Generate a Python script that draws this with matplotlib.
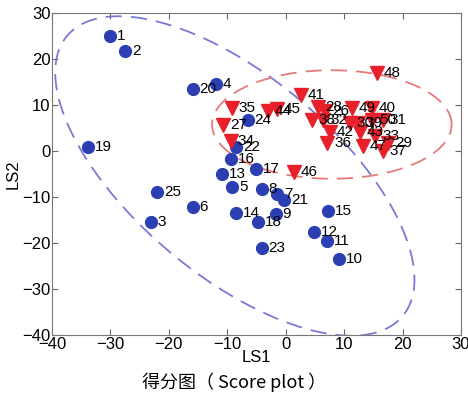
import numpy as np
import matplotlib
matplotlib.use("Agg")
import matplotlib.pyplot as plt

plt.rcParams['font.family'] = ['Liberation Sans', 'DejaVu Sans']

# blue group (circles)
blue_ids = list(range(1, 26))
blue_x = [-30, -27.5, -23.1, -11.9, -9.2, -15.9, -1.5, -4.1, -1.7, 9.1,
          7.1, 4.8, -10.9, -8.5, 7.2, -9.4, -5.1, -4.7, -33.8, -15.9,
          -0.3, -8.5, -4.1, -6.5, -22.0]
blue_y = [25, 21.7, -15.4, 14.5, -7.7, -12.1, -9.3, -8.2, -13.6, -23.4,
          -19.5, -17.5, -4.9, -13.4, -13.0, -1.6, -3.8, -15.4, 1.0, 13.6,
          -10.6, 0.8, -21.0, 6.7, -8.8]

# red group (triangles)
red_ids = [26, 27, 28, 29, 30, 31, 32, 33, 34, 35, 36, 37, 38, 39, 40,
           41, 42, 43, 44, 45, 46, 47, 48, 49, 50]
red_x = [6.7, -10.7, 5.5, 17.5, 11.0, 16.6, 6.4, 15.3, -9.4, -9.2, 7.1, 16.6, 4.5, 12.4, 14.8,
         2.6, 7.6, 12.7, -3.0, -1.5, 1.4, 13.2, 15.6, 11.3, 14.8]
red_y = [8.8, 5.6, 9.5, 1.7, 6.2, 6.7, 6.7, 3.4, 2.3, 9.3, 1.7, 0.1, 6.7, 6.2, 9.3,
         12.3, 4.1, 4.1, 8.8, 9.1, -4.5, 1.2, 16.9, 9.3, 6.7]

# confidence ellipses: centre, axis vectors
blue_c = (-8.7, -5.4)
blue_u = (29.0, -30.0)
blue_v = (10.2, 17.5)
red_c = (7.9, 5.8)
red_u = (20.5, 0.0)
red_v = (0.0, 11.8)

fig = plt.figure(figsize=(4.68, 3.99), dpi=100)
ax = fig.add_axes([0.111, 0.160, 0.874, 0.807])

t = np.linspace(0, 2 * np.pi, 400)
ex = blue_c[0] + np.cos(t) * blue_u[0] + np.sin(t) * blue_v[0]
ey = blue_c[1] + np.cos(t) * blue_u[1] + np.sin(t) * blue_v[1]
ax.plot(ex, ey, color='#7a7ad6', lw=1.3, dashes=(9, 5))
ex = red_c[0] + np.cos(t) * red_u[0] + np.sin(t) * red_v[0]
ey = red_c[1] + np.cos(t) * red_u[1] + np.sin(t) * red_v[1]
ax.plot(ex, ey, color='#e67a7a', lw=1.3, dashes=(9, 5))

ax.plot(blue_x, blue_y, 'o', color='#2b3fb3', ms=8.5, mec='#2b3fb3')
ax.plot(red_x, red_y, 'v', color='#e8202a', ms=10, mec='#e8202a')

for i, x, y in zip(blue_ids, blue_x, blue_y):
    ax.annotate(str(i), (x, y), xytext=(5, 0), textcoords='offset points',
                va='center', ha='left', fontsize=11)
for i, x, y in zip(red_ids, red_x, red_y):
    ax.annotate(str(i), (x, y), xytext=(5, 0), textcoords='offset points',
                va='center', ha='left', fontsize=11)

ax.set_xlim(-40, 30)
ax.set_ylim(-40, 30)
ax.set_xticks(range(-40, 31, 10))
ax.set_yticks(range(-40, 31, 10))
ax.tick_params(direction='in', top=True, right=True, labelsize=12, length=4,
               color='#666666', pad=1)
for s in ax.spines.values():
    s.set_color('#777777')
ax.set_xlabel('LS1', fontsize=12, labelpad=-1)
ax.set_ylabel('LS2', fontsize=12, labelpad=1)

fig.text(0.5, 0.043, '得分图（ Score plot ）', ha='center', va='center', fontsize=13,
         family=['Noto Sans CJK SC', 'DejaVu Sans'])

fig.savefig('out.png', dpi=100)
